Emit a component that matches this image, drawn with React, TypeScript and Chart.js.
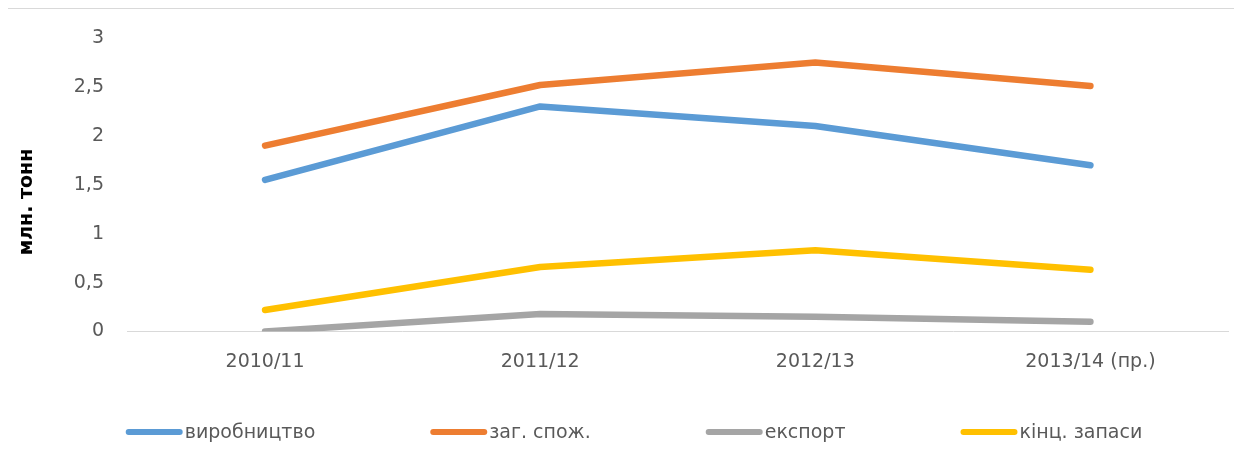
import React, { useEffect, useRef } from "react";
import { Chart, registerables } from "chart.js";

Chart.register(...registerables);

const categories = ["2010/11", "2011/12", "2012/13", "2013/14 (пр.)"];
const seriesNames = ["виробництво", "заг. спож.", "експорт", "кінц. запаси"];
const production = [1.55, 2.3, 2.1, 1.7];
const consumption = [1.9, 2.52, 2.75, 2.51];
const exportVals = [0.0, 0.18, 0.15, 0.1];
const endStocks = [0.22, 0.66, 0.83, 0.63];
const colors = ["#5B9BD5", "#ED7D31", "#A5A5A5", "#FFC000"];
const yTitle = "млн. тонн";

const FONT = "'DejaVu Sans', 'Liberation Sans', sans-serif";

const legendPlugin = {
  id: "customLegend",
  afterDraw(chart: any) {
    const ctx = chart.ctx as CanvasRenderingContext2D;
    const ds = chart.data.datasets;
    ctx.save();
    ctx.font = `19px ${FONT}`;
    const lineLen = 57;
    const textGap = 2;
    const itemGap = 115;
    const widths = ds.map((d: any) => lineLen + textGap + ctx.measureText(d.label).width);
    const total = widths.reduce((a: number, b: number) => a + b, 0) + itemGap * (ds.length - 1);
    let x = 626 - total / 2;
    const y = 423;
    ds.forEach((d: any, i: number) => {
      ctx.strokeStyle = d.borderColor;
      ctx.lineWidth = 6;
      ctx.lineCap = "round";
      ctx.beginPath();
      ctx.moveTo(x + 3, y);
      ctx.lineTo(x + lineLen - 3, y);
      ctx.stroke();
      ctx.fillStyle = "#595959";
      ctx.textBaseline = "middle";
      ctx.textAlign = "left";
      ctx.fillText(d.label, x + lineLen + textGap, y + 1);
      x += widths[i] + itemGap;
    });
    // y-axis title
    ctx.save();
    ctx.translate(19, 193);
    ctx.rotate(-Math.PI / 2);
    ctx.font = `bold 19px ${FONT}`;
    ctx.fillStyle = "#000000";
    ctx.textAlign = "center";
    ctx.textBaseline = "middle";
    ctx.fillText(yTitle, 0, 0);
    ctx.restore();
    ctx.restore();
  },
};

export default function App() {
  const ref = useRef<HTMLCanvasElement | null>(null);
  useEffect(() => {
    if (!ref.current) return;
    const all = [production, consumption, exportVals, endStocks];
    const chart = new Chart(ref.current, {
      type: "line",
      data: {
        labels: categories,
        datasets: all.map((vals, i) => ({
          label: seriesNames[i],
          data: vals,
          borderColor: colors[i],
          backgroundColor: colors[i],
          borderWidth: 6.5,
          borderCapStyle: "round" as const,
          borderJoinStyle: "round" as const,
          pointRadius: 0,
          pointHoverRadius: 0,
          tension: 0,
          fill: false,
        })),
      },
      options: {
        responsive: false,
        animation: false,
        devicePixelRatio: 1,
        layout: { padding: { top: 29, right: 14, left: 0, bottom: 0 } },
        plugins: {
          legend: { display: false },
          tooltip: { enabled: false },
        },
        scales: {
          x: {
            offset: true,
            grid: { display: false, drawTicks: false },
            border: { display: true, color: "#D9D9D9", width: 1 },
            ticks: {
              color: "#595959",
              font: { family: FONT, size: 19 },
              padding: 19,
              maxRotation: 0,
              autoSkip: false,
            },
            afterFit(scale: any) {
              scale.height = 118.5;
              scale.paddingLeft = 0;
              scale.paddingRight = 0;
            },
          },
          y: {
            min: 0,
            max: 3,
            grid: { display: false, drawTicks: false },
            border: { display: false },
            ticks: {
              stepSize: 0.5,
              color: "#595959",
              font: { family: FONT, size: 19 },
              padding: 23.5,
              callback: (v: any) => String(v).replace(".", ","),
            },
            afterFit(scale: any) {
              scale.width = 119.5;
              scale.paddingTop = 12;
              scale.paddingBottom = 12;
            },
          },
        },
      },
      plugins: [legendPlugin],
    });
    return () => chart.destroy();
  }, []);
  return (
    <div
      style={{
        marginLeft: -1,
        width: 1234,
        height: 442,
        borderLeft: "1px solid #D9D9D9",
        borderTop: "1px solid #D9D9D9",
        background: "#fff",
      }}
    >
      <canvas ref={ref} width={1234} height={441} style={{ display: "block" }} />
    </div>
  );
}
